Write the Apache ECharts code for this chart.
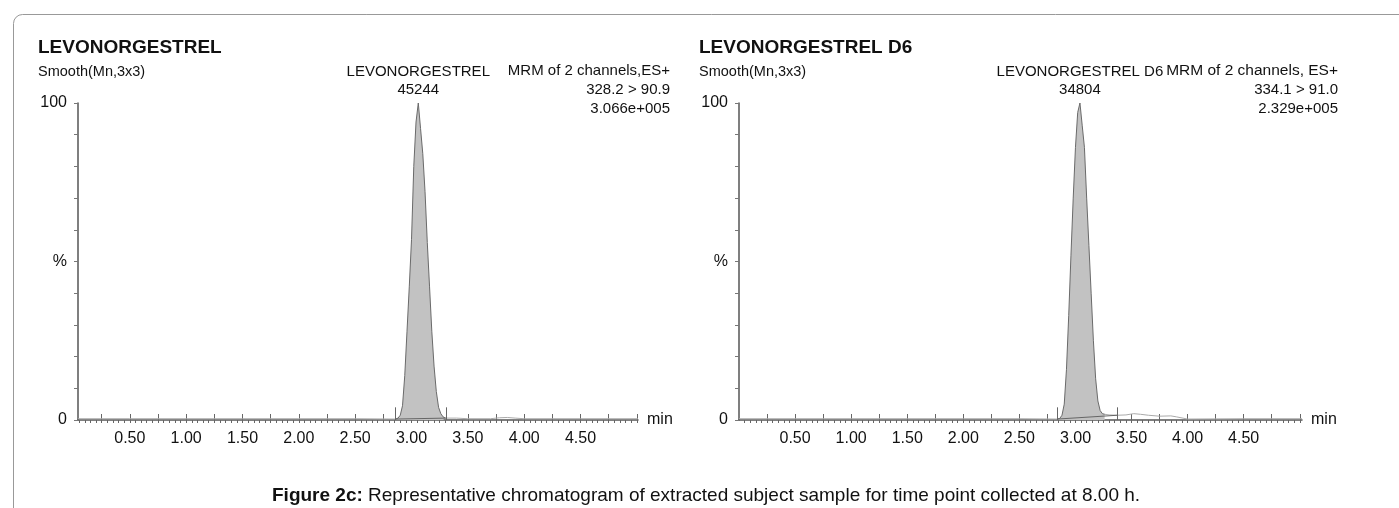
<!DOCTYPE html>
<html><head><meta charset="utf-8">
<script src="https://cdn.jsdelivr.net/npm/echarts@6/dist/echarts.min.js"></script>
<style>html,body{margin:0;padding:0;background:#fff}#c{width:1399px;height:508px}</style>
</head><body><div id="c"></div>
<script>
// ---- data ----
const xLabels = [0.5, 1.0, 1.5, 2.0, 2.5, 3.0, 3.5, 4.0, 4.5];
const yLabels = {0: '0', 50: '%', 100: '100'};

// LEVONORGESTREL peak (time min, % intensity)
const levoPeakT = [2.86, 2.88, 2.90, 2.92, 2.94, 2.96, 2.98, 3.00, 3.02, 3.04, 3.06, 3.08, 3.10, 3.12, 3.14, 3.16, 3.18, 3.20, 3.22, 3.24, 3.26, 3.28, 3.30];
const levoPeakY = [0.3, 0.6, 1.5, 4.5, 14, 28, 42, 57, 80, 94, 100, 92, 84, 72, 56, 42, 28, 17, 9, 4, 2, 1, 0.6];
const levoBaseT = [0.04, 0.5, 1.0, 1.5, 2.0, 2.5, 2.86, 3.30, 3.40, 3.50, 3.70, 3.78, 3.85, 3.92, 4.0, 4.5, 5.01];
const levoBaseY = [0.4, 0.4, 0.4, 0.4, 0.4, 0.4, 0.3, 0.6, 0.6, 0.4, 0.4, 0.7, 0.8, 0.6, 0.4, 0.4, 0.4];
const levoMarks = [2.86, 3.305];
const levoMarkY = [0.3, 0.6];
const levoApex = [3.06, 100];

// LEVONORGESTREL D6 peak
const d6PeakT = [2.84, 2.86, 2.88, 2.90, 2.92, 2.94, 2.96, 2.98, 3.00, 3.02, 3.04, 3.06, 3.08, 3.10, 3.12, 3.14, 3.16, 3.18, 3.20, 3.22, 3.24, 3.26];
const d6PeakY = [0.3, 0.5, 1.5, 5, 16, 33, 52, 70, 86, 97, 100, 93, 86, 70, 55, 40, 25, 13, 6, 3, 2, 1.8];
const d6BaseT = [0.0, 0.5, 1.0, 1.5, 2.0, 2.5, 2.84, 3.26, 3.30, 3.375, 3.45, 3.52, 3.58, 3.65, 3.75, 3.85, 3.90, 4.0, 4.5, 5.02];
const d6BaseY = [0.4, 0.4, 0.4, 0.4, 0.4, 0.4, 0.3, 1.8, 1.6, 1.5, 1.6, 2.0, 1.8, 1.5, 1.2, 1.3, 1.0, 0.3, 0.4, 0.4];
const d6Marks = [2.84, 3.375];
const d6MarkY = [0.3, 1.5];
const d6Apex = [3.04, 100];

const panels = [
  {title: 'LEVONORGESTREL', smooth: 'Smooth(Mn,3x3)', peakName: 'LEVONORGESTREL', area: '45244',
   info: ['MRM of 2 channels,ES+', '328.2 > 90.9', '3.066e+005'], xMin: 0.04, xMax: 5.01,
   pT: levoPeakT, pY: levoPeakY, bT: levoBaseT, bY: levoBaseY, marks: levoMarks, markY: levoMarkY, apex: levoApex},
  {title: 'LEVONORGESTREL D6', smooth: 'Smooth(Mn,3x3)', peakName: 'LEVONORGESTREL D6', area: '34804',
   info: ['MRM of 2 channels, ES+', '334.1 > 91.0', '2.329e+005'], xMin: 0.0, xMax: 5.02,
   pT: d6PeakT, pY: d6PeakY, bT: d6BaseT, bY: d6BaseY, marks: d6Marks, markY: d6MarkY, apex: d6Apex}
];
const caption = ['Figure 2c:', ' Representative chromatogram of extracted subject sample for time point collected at 8.00 h.'];

// ---- layout ----
const FONT = "'Liberation Sans',Arial,sans-serif";
const grids = [
  {left: 78, top: 103, width: 560, height: 317},
  {left: 739, top: 103, width: 563, height: 317}
];
const infoRight = [670, 1338];
const infoSize = [15, 15.5];
const minorTicks = [];
for (let i = 1; i <= 100; i++) minorTicks.push(+(i * 0.05).toFixed(2));
const majorTicks = [];
for (let i = 1; i <= 20; i++) majorTicks.push(+(i * 0.25).toFixed(2));
const yTicks = [];
for (let i = 0; i <= 10; i++) yTicks.push(i * 10);

const zip = (a, b) => a.map((v, i) => [v, b[i]]);
const option = {
  animation: false,
  backgroundColor: '#fff',
  grid: grids,
  xAxis: [], yAxis: [], series: [], graphic: []
};

panels.forEach((p, k) => {
  const g = grids[k];
  const axColor = '#555';
  option.xAxis.push({
    type: 'value', gridIndex: k, min: p.xMin, max: p.xMax,
    name: 'min', nameLocation: 'end', nameGap: 9,
    nameTextStyle: {color: '#111', fontSize: 16, fontFamily: FONT, verticalAlign: 'middle', padding: [2, 0, 0, 0]},
    axisLine: {show: true, onZero: false, lineStyle: {color: axColor, width: 1.5}},
    axisTick: {show: true, customValues: minorTicks.filter(v => v > p.xMin && v <= p.xMax), length: 3, lineStyle: {color: '#666'}},
    axisLabel: {show: true, customValues: xLabels, formatter: v => v.toFixed(2), color: '#111', fontSize: 16, fontFamily: FONT, margin: 11},
    splitLine: {show: false}
  });
  option.xAxis.push({
    type: 'value', gridIndex: k, min: p.xMin, max: p.xMax,
    axisLine: {show: false},
    axisTick: {show: true, customValues: majorTicks, length: 6, lineStyle: {color: '#666'}},
    axisLabel: {show: false}, splitLine: {show: false}
  });
  option.yAxis.push({
    type: 'value', gridIndex: k, min: 0, max: 100,
    axisLine: {show: true, onZero: false, lineStyle: {color: axColor, width: 1.5}},
    axisTick: {show: true, customValues: yTicks, length: 4, lineStyle: {color: '#777'}},
    axisLabel: {show: true, customValues: [0, 50, 100], formatter: v => yLabels[v], color: '#111', fontSize: 16, fontFamily: FONT, margin: 11},
    splitLine: {show: false}
  });
  // baseline trace
  option.series.push({
    type: 'line', xAxisIndex: 2 * k, yAxisIndex: k, data: zip(p.bT, p.bY), showSymbol: false,
    lineStyle: {color: '#aaa', width: 1}, z: 2
  });
  // peak trace
  option.series.push({
    type: 'line', xAxisIndex: 2 * k, yAxisIndex: k, data: zip(p.pT, p.pY), showSymbol: false,
    lineStyle: {color: '#6a6a6a', width: 1}, areaStyle: {color: '#c2c2c2', opacity: 1}, z: 3,
    markLine: {
      symbol: 'none', silent: true, label: {show: false},
      lineStyle: {color: '#666', width: 1, type: 'solid'},
      data: [
        [{coord: [p.marks[0], 0]}, {coord: [p.marks[0], 4]}],
        [{coord: [p.marks[1], 0]}, {coord: [p.marks[1], 4]}],
        [{coord: [p.marks[0], p.markY[0]]}, {coord: [p.marks[1], p.markY[1]]}]
      ]
    },
    markPoint: {
      symbol: 'circle', symbolSize: 0, silent: true,
      data: [{coord: p.apex}],
      label: {show: true, position: 'top', distance: 4, formatter: p.peakName + '\n' + p.area,
        color: '#111', fontSize: 15, lineHeight: 18, fontFamily: FONT, align: 'center'}
    }
  });
  // header texts
  option.graphic.push({type: 'text', left: g.left - 40, top: 38,
    style: {text: p.title, font: "bold 19px 'Liberation Sans',Arial,sans-serif", fill: '#111'}});
  option.graphic.push({type: 'text', left: g.left - 40, top: 64,
    style: {text: p.smooth, font: "14.5px " + FONT, fill: '#111'}});
  p.info.forEach((line, j) => {
    option.graphic.push({type: 'text', right: 1399 - infoRight[k], top: 63 + j * 19,
      style: {text: line, font: (j === 0 ? infoSize[k] : 15) + "px " + FONT, fill: '#111'}});
  });
});

option.graphic.push({type: 'rect', left: 11, top: 12, shape: {width: 1420, height: 520, r: [9, 0, 0, 0]},
  style: {fill: 'none', stroke: '#999', lineWidth: 1}, z: -1});
option.graphic.push({type: 'text', left: 272, top: 486,
  style: {rich: {b: {font: "bold 19px 'Liberation Sans',Arial,sans-serif", fill: '#111'}, n: {font: "19px 'Liberation Sans',Arial,sans-serif", fill: '#111'}},
    text: '{b|' + caption[0] + '}{n|' + caption[1] + '}'}});

const chart = echarts.init(document.getElementById('c'), null, {renderer: 'canvas'});
chart.setOption(option);
</script></body></html>
